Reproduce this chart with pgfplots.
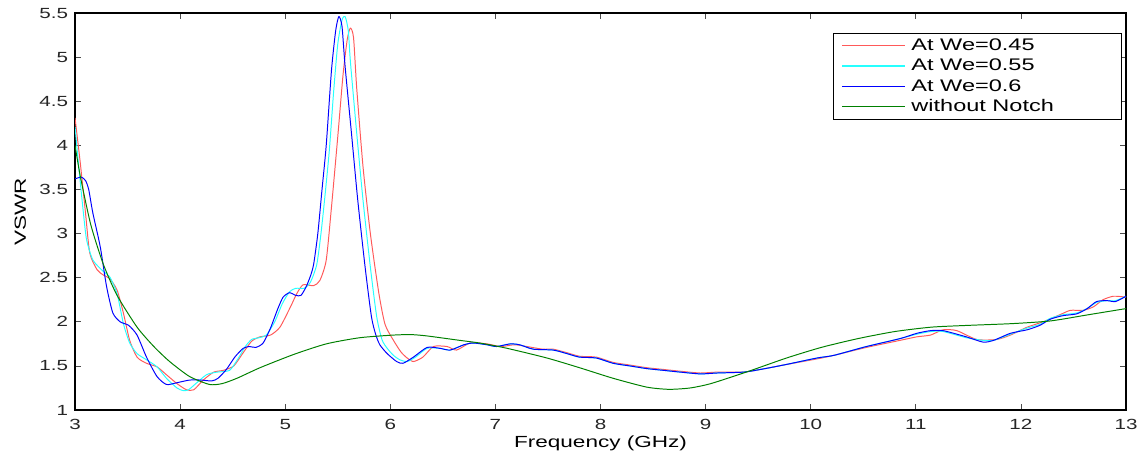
\documentclass[border=0pt]{standalone}
\usepackage{fontspec}
\setmainfont[FakeStretch=1.4]{Liberation Sans}
\usepackage{pgfplots}
\pgfplotsset{compat=1.18}
\definecolor{lred}{rgb}{1,0.35,0.35}
\definecolor{lcyan}{rgb}{0.15,1,1}
\definecolor{dgreen}{rgb}{0,0.5,0}
\begin{document}
\begin{tikzpicture}
\path[use as bounding box] (-53.6pt,-31.4pt) rectangle (766.4pt,292.9pt);
\begin{axis}[
  at={(0pt,0pt)}, anchor=south west,
  scale only axis, width=750.7pt, height=283.6pt,
  xmin=3, xmax=13, ymin=1, ymax=5.5,
  xtick={3,4,...,13}, ytick={1,1.5,...,5.5},
  tick align=inside, major tick length=4pt,
  every tick/.style={black!70, line width=0.6pt},
  axis line style={black, line width=0.9pt},
  /pgf/number format/assume math mode=true,
  ticklabel style={font=\fontsize{10.5}{12}\selectfont, black!85},
  yticklabel style={xshift=-1.5pt},
  xticklabel style={yshift=-3pt},
  xlabel={Frequency (GHz)}, ylabel={VSWR},
  every axis x label/.style={at={(axis description cs:0.5,-0.085)}, anchor=center, font=\fontsize{11.5}{13}\selectfont},
  every axis y label/.style={at={(axis description cs:-0.052,0.5)}, anchor=center, rotate=90, font=\fontsize{11.5}{13}\selectfont},
  legend style={at={(0.721,0.950)}, anchor=north west, draw=black, line width=0.6pt, fill=white,
    font=\fontsize{12}{14}\selectfont, inner xsep=6pt, inner ysep=2pt, row sep=0.6pt},
  legend cell align=left,
  legend image code/.code={\draw[#1, line width=0.9pt] (0pt,0pt) -- (45pt,0pt);},
  every axis plot/.append style={line width=0.7pt, line join=round, smooth, tension=0.4},
]
\addplot[lred] coordinates {
(3.00,4.31)(3.05,3.80)(3.10,3.23)(3.14,2.78)(3.21,2.59)(3.27,2.53)(3.33,2.49)(3.40,2.36)(3.46,2.10)(3.52,1.79)(3.59,1.60)(3.68,1.53)(3.78,1.49)(3.87,1.40)(3.97,1.30)(4.06,1.23)(4.13,1.23)(4.22,1.34)(4.32,1.43)(4.41,1.45)(4.51,1.50)(4.60,1.65)(4.68,1.78)(4.76,1.83)(4.86,1.85)(4.95,1.94)(5.05,2.17)(5.11,2.32)(5.17,2.42)(5.27,2.41)(5.33,2.47)(5.39,2.70)(5.44,3.30)(5.50,4.10)(5.55,4.80)(5.59,5.20)(5.62,5.33)(5.65,5.22)(5.68,4.65)(5.74,3.76)(5.81,3.00)(5.89,2.33)(5.95,1.97)(6.03,1.79)(6.10,1.66)(6.16,1.59)(6.22,1.55)(6.31,1.60)(6.41,1.72)(6.54,1.72)(6.63,1.68)(6.76,1.76)(6.92,1.75)(7.05,1.72)(7.18,1.74)(7.30,1.72)(7.45,1.69)(7.55,1.69)(7.68,1.65)(7.80,1.61)(7.96,1.60)(8.12,1.54)(8.28,1.51)(8.44,1.48)(8.60,1.46)(8.76,1.44)(8.95,1.42)(9.11,1.43)(9.36,1.43)(9.52,1.46)(9.74,1.51)(10.06,1.58)(10.22,1.62)(10.53,1.71)(10.85,1.79)(11.01,1.83)(11.14,1.85)(11.26,1.91)(11.39,1.90)(11.58,1.80)(11.77,1.80)(11.90,1.85)(12.06,1.94)(12.21,2.00)(12.37,2.08)(12.47,2.13)(12.59,2.13)(12.69,2.17)(12.78,2.25)(12.88,2.29)(13.00,2.28)
};
\addlegendentry{\hspace{2pt}\makebox[142pt][l]{At We=0.45}}
\addplot[lcyan] coordinates {
(3.00,4.21)(3.04,3.70)(3.08,3.23)(3.11,2.93)(3.17,2.70)(3.27,2.57)(3.33,2.51)(3.40,2.32)(3.46,1.98)(3.52,1.76)(3.59,1.64)(3.68,1.57)(3.78,1.49)(3.87,1.36)(3.97,1.25)(4.03,1.22)(4.08,1.23)(4.13,1.28)(4.25,1.40)(4.35,1.43)(4.47,1.45)(4.55,1.58)(4.62,1.72)(4.68,1.80)(4.75,1.82)(4.82,1.85)(4.90,2.00)(4.97,2.20)(5.04,2.34)(5.10,2.38)(5.18,2.38)(5.24,2.45)(5.30,2.65)(5.34,3.00)(5.38,3.45)(5.42,3.95)(5.46,4.60)(5.50,5.15)(5.54,5.42)(5.57,5.46)(5.60,5.30)(5.62,4.95)(5.68,4.14)(5.74,3.38)(5.81,2.62)(5.87,2.06)(5.92,1.80)(5.97,1.70)(6.03,1.62)(6.09,1.57)(6.16,1.55)(6.24,1.60)(6.35,1.70)(6.47,1.70)(6.57,1.68)(6.70,1.74)(6.79,1.76)(6.92,1.74)(7.01,1.72)(7.14,1.75)(7.23,1.74)(7.36,1.69)(7.55,1.68)(7.68,1.64)(7.80,1.60)(7.96,1.59)(8.12,1.53)(8.28,1.50)(8.44,1.47)(8.60,1.45)(8.76,1.43)(8.95,1.41)(9.11,1.42)(9.36,1.43)(9.52,1.46)(9.74,1.51)(10.06,1.59)(10.22,1.62)(10.53,1.72)(10.85,1.81)(11.01,1.86)(11.14,1.89)(11.26,1.89)(11.48,1.82)(11.64,1.79)(11.74,1.79)(11.90,1.86)(12.06,1.93)(12.18,1.97)(12.28,2.04)(12.40,2.08)(12.53,2.10)(12.63,2.15)(12.72,2.22)(12.82,2.24)(12.90,2.24)(13.00,2.29)
};
\addlegendentry{\hspace{2pt}At We=0.55}
\addplot[blue] coordinates {
(3.00,3.62)(3.06,3.64)(3.10,3.60)(3.13,3.50)(3.17,3.23)(3.24,2.85)(3.30,2.40)(3.36,2.10)(3.43,2.00)(3.51,1.96)(3.59,1.85)(3.68,1.60)(3.78,1.38)(3.87,1.29)(3.97,1.31)(4.09,1.34)(4.20,1.34)(4.30,1.33)(4.36,1.36)(4.44,1.46)(4.52,1.60)(4.60,1.70)(4.66,1.72)(4.72,1.71)(4.79,1.76)(4.86,1.93)(4.93,2.15)(4.98,2.28)(5.04,2.33)(5.10,2.30)(5.15,2.30)(5.20,2.40)(5.24,2.52)(5.27,2.65)(5.31,3.00)(5.35,3.50)(5.39,4.00)(5.44,4.85)(5.48,5.30)(5.51,5.46)(5.54,5.35)(5.57,4.89)(5.63,4.14)(5.69,3.38)(5.76,2.62)(5.82,2.06)(5.86,1.86)(5.90,1.74)(5.97,1.64)(6.06,1.55)(6.12,1.53)(6.22,1.60)(6.35,1.71)(6.47,1.70)(6.57,1.68)(6.70,1.74)(6.79,1.76)(6.92,1.74)(7.01,1.72)(7.14,1.75)(7.23,1.74)(7.36,1.69)(7.55,1.68)(7.68,1.64)(7.80,1.60)(7.96,1.59)(8.12,1.53)(8.28,1.50)(8.44,1.47)(8.60,1.45)(8.76,1.43)(8.95,1.41)(9.11,1.42)(9.36,1.43)(9.52,1.46)(9.74,1.51)(10.06,1.59)(10.22,1.62)(10.53,1.72)(10.85,1.81)(11.01,1.87)(11.14,1.90)(11.26,1.90)(11.48,1.83)(11.64,1.77)(11.74,1.79)(11.90,1.87)(12.06,1.91)(12.18,1.96)(12.28,2.03)(12.40,2.07)(12.53,2.09)(12.63,2.15)(12.72,2.23)(12.82,2.24)(12.90,2.23)(13.00,2.29)
};
\addlegendentry{\hspace{2pt}At We=0.6}
\addplot[dgreen] coordinates {
(3.00,4.00)(3.05,3.65)(3.15,3.10)(3.27,2.65)(3.40,2.30)(3.59,1.94)(3.75,1.72)(3.90,1.55)(4.09,1.38)(4.28,1.29)(4.40,1.30)(4.54,1.36)(4.76,1.48)(5.08,1.63)(5.39,1.75)(5.71,1.82)(6.03,1.85)(6.20,1.855)(6.35,1.84)(6.66,1.79)(6.85,1.76)(7.11,1.70)(7.49,1.59)(7.80,1.48)(8.12,1.36)(8.44,1.26)(8.65,1.235)(8.85,1.25)(9.05,1.30)(9.41,1.44)(9.77,1.59)(10.10,1.71)(10.45,1.81)(10.80,1.89)(11.15,1.94)(11.50,1.96)(11.92,1.98)(12.28,2.01)(12.64,2.08)(13.00,2.15)
};
\addlegendentry{\hspace{2pt}without Notch}
\end{axis}
\end{tikzpicture}
\end{document}
